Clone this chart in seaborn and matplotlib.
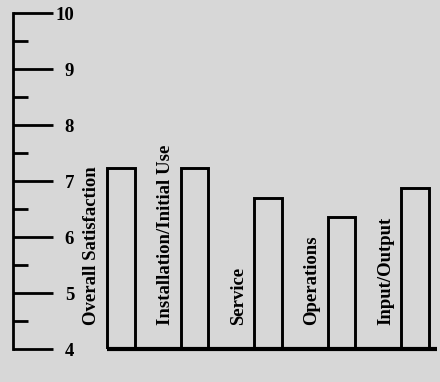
import matplotlib
matplotlib.use("Agg")
import matplotlib.pyplot as plt
import seaborn as sns
from matplotlib.ticker import MultipleLocator

# satisfaction scores
categories = ["Overall Satisfaction", "Installation/Initial Use", "Service",
              "Operations", "Input/Output"]
scores = [7.23, 7.23, 6.70, 6.36, 6.87]
y_ticks = [4, 5, 6, 7, 8, 9, 10]

sns.set_style("white")
plt.rcParams["font.family"] = ["Liberation Serif", "DejaVu Serif"]
bg = "#d7d7d7"

fig = plt.figure(figsize=(4.4, 3.82), dpi=100, facecolor=bg)
ax = fig.add_axes([13 / 440, 1 - 349 / 382, 424 / 440, 336 / 382])
ax.set_facecolor(bg)

sns.barplot(x=categories, y=scores, ax=ax, fill=False, width=0.38,
            edgecolor="black", linewidth=2.1, err_kws={"linewidth": 0})

ax.set_ylim(4, 10)
ax.set_xlim(-1.47, 4.30)
ax.set_yticks(y_ticks)
ax.yaxis.set_minor_locator(MultipleLocator(0.5))
ax.tick_params(axis="y", which="major", direction="in", length=28.5,
               width=2, color="black", pad=-44, labelsize=13.5,
               labelcolor="black")
ax.tick_params(axis="y", which="minor", direction="in", length=11,
               width=2, color="black")
ax.yaxis.set_ticks_position("left")
for lab in ax.get_yticklabels():
    lab.set_fontweight("bold")
    lab.set_horizontalalignment("right")

ax.set_xticks([])
ax.set_xlabel("")
ax.set_ylabel("")
for side in ["top", "right", "bottom"]:
    ax.spines[side].set_visible(False)
ax.spines["left"].set_linewidth(2)
ax.spines["left"].set_color("black")

# baseline starting at the first bar
first_left = ax.patches[0].get_x()
ax.hlines(4, first_left, ax.get_xlim()[1], color="black", linewidth=3,
          clip_on=False)

# rotated category labels beside each bar
for i, name in enumerate(categories):
    ax.text(i - 0.40, 4.42, name, rotation=90, ha="center", va="bottom",
            fontsize=13.5, fontweight="bold", color="black")

fig.savefig("out.png", dpi=100, facecolor=bg)
